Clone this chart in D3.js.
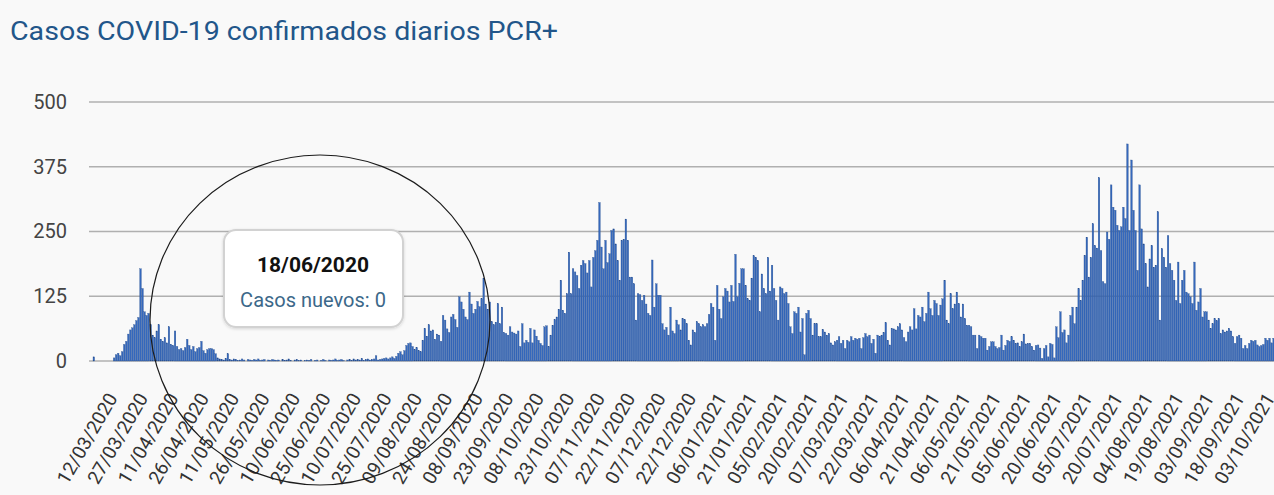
<!DOCTYPE html>
<html>
<head>
<meta charset="utf-8">
<script src="https://cdn.jsdelivr.net/npm/d3@7"></script>
<style>
  html, body { margin: 0; padding: 0; background: #f9f9f9; }
  svg { display: block; font-family: Roboto, "Noto Sans", sans-serif; }
</style>
</head>
<body>
<svg id="chart" width="1274" height="495"></svg>
<script>
// Daily confirmed PCR+ cases, one value per day starting 02/03/2020
const startDate = "2020-03-02";
const dailyCases = [
  8,0,0,0,0,0,0,0,0,0,
  6,12,15,10,18,32,38,52,60,64,
  70,78,84,178,140,95,88,92,70,50,
  45,58,70,42,38,45,35,66,32,30,
  58,28,22,24,20,26,42,30,22,28,
  18,24,26,38,20,15,22,24,24,22,
  14,6,4,3,2,5,14,3,2,4,
  3,1,2,4,2,0,3,2,1,3,
  2,4,1,2,3,0,2,1,3,2,
  1,2,0,3,1,2,4,1,0,2,
  3,1,2,0,1,2,1,3,0,1,
  2,0,1,3,1,0,2,1,2,4,
  1,2,3,1,0,2,3,1,4,2,
  3,2,5,1,3,4,2,3,4,10,
  2,3,4,5,6,4,6,8,5,9,
  15,18,12,20,30,34,35,28,22,26,
  20,18,40,63,48,70,58,60,42,52,
  50,38,88,79,62,55,85,90,80,65,
  124,114,100,85,80,133,110,92,100,115,
  105,120,160,110,100,114,76,70,75,111,
  72,104,55,53,50,66,56,54,52,58,
  28,72,35,40,36,63,35,60,48,40,
  34,30,66,68,28,50,69,80,85,100,
  156,98,92,130,210,130,178,172,165,140,
  185,194,188,170,194,143,200,213,233,306,
  220,178,233,190,207,252,255,226,194,156,
  233,235,274,233,162,162,149,79,130,128,
  117,127,110,92,88,195,104,149,127,127,
  72,60,65,50,104,58,53,79,70,60,
  82,80,72,40,31,60,55,76,72,66,
  70,66,72,90,111,104,40,146,100,82,
  124,140,135,114,146,115,206,124,150,178,
  178,146,120,117,160,203,200,194,95,168,
  140,130,200,135,185,140,117,79,143,140,
  130,133,111,66,53,95,92,104,56,82,
  12,92,98,82,50,72,72,47,47,61,
  56,50,53,35,31,37,40,47,34,40,
  24,40,37,47,40,44,42,44,24,45,
  53,47,50,34,42,15,50,48,50,55,
  74,40,31,63,62,60,66,72,60,45,
  37,56,66,60,101,62,88,85,104,76,
  92,133,101,88,117,111,88,108,120,156,
  79,72,130,101,110,133,111,85,110,82,
  69,69,66,50,50,24,50,47,44,44,
  21,28,37,37,28,24,26,50,21,30,
  40,38,47,40,34,35,28,37,52,33,
  34,34,28,21,30,31,25,5,24,30,
  8,34,32,6,66,45,95,55,60,35,
  50,88,104,72,104,140,117,156,204,239,
  162,200,265,223,218,354,213,153,149,249,
  235,340,297,291,262,252,259,297,275,419,
  252,388,291,252,175,340,255,226,188,143,
  197,223,181,185,288,79,217,200,181,242,
  188,175,156,117,191,111,156,175,133,130,
  124,111,191,98,114,140,85,95,95,79,
  63,72,82,78,82,53,60,56,58,63,
  58,47,34,47,50,44,24,30,24,34,
  40,38,40,31,28,30,32,44,40,44,
  35,44,31
];

// Dates shown on the horizontal axis
const xTickLabels = [
  "12/03/2020","27/03/2020","11/04/2020","26/04/2020","11/05/2020","26/05/2020",
  "10/06/2020","25/06/2020","10/07/2020","25/07/2020","09/08/2020","24/08/2020",
  "08/09/2020","23/09/2020","08/10/2020","23/10/2020","07/11/2020","22/11/2020",
  "07/12/2020","22/12/2020","06/01/2021","21/01/2021","05/02/2021","20/02/2021",
  "07/03/2021","22/03/2021","06/04/2021","21/04/2021","06/05/2021","21/05/2021",
  "05/06/2021","20/06/2021","05/07/2021","20/07/2021","04/08/2021","19/08/2021",
  "03/09/2021","18/09/2021","03/10/2021"
];

const yTicks = [0, 125, 250, 375, 500];

const title = "Casos COVID-19 confirmados diarios PCR+";
const tooltipDate = "18/06/2020";
const tooltipLabel = "Casos nuevos";

// ---- helpers ----
const fmt = d3.timeFormat("%d/%m/%Y");
const parseLabel = d3.timeParse("%d/%m/%Y");
const day0 = d3.timeParse("%Y-%m-%d")(startDate);
const data = dailyCases.map((v, i) => ({ date: fmt(d3.timeDay.offset(day0, i)), value: v }));

const svg = d3.select("#chart");
svg.append("rect").attr("width", 1274).attr("height", 495).attr("fill", "#f9f9f9");

const x = d3.scaleBand()
  .domain(data.map(d => d.date))
  .range([93, 93 + data.length * 2.03])
  .paddingInner(0.2);

const y = d3.scaleLinear().domain([0, 500]).range([361, 102]);

// title
svg.append("text")
  .attr("x", 10).attr("y", 40)
  .attr("font-size", 25)
  .attr("textLength", 548)
  .attr("lengthAdjust", "spacingAndGlyphs")
  .attr("fill", "#22568a")
  .text(title);

// horizontal grid + y labels
const yAxis = d3.axisLeft(y).tickValues(yTicks).tickSize(0).tickPadding(0);
const gy = svg.append("g").attr("transform", "translate(67,0)").call(yAxis);
gy.select(".domain").remove();
gy.selectAll("text").attr("font-size", 20).attr("fill", "#444").attr("font-family", "Roboto, sans-serif");

svg.append("g").selectAll("line")
  .data(yTicks)
  .join("line")
  .attr("x1", 89).attr("x2", 1274)
  .attr("y1", d => y(d)).attr("y2", d => y(d))
  .attr("stroke", "#b0b0b0").attr("stroke-width", 1.4);

// bars
svg.append("g").selectAll("rect")
  .data(data)
  .join("rect")
  .attr("x", d => x(d.date))
  .attr("width", x.bandwidth())
  .attr("y", d => y(d.value))
  .attr("height", d => y(0) - y(d.value))
  .attr("fill", "#3568bc")
  .attr("stroke", "#284f8e")
  .attr("stroke-width", 0.3);

// slanted date labels
svg.append("g").selectAll("text")
  .data(xTickLabels)
  .join("text")
  .attr("transform", d => {
    const k = fmt(parseLabel(d));
    const cx = x(k) + x.bandwidth() / 2 + 4;
    return `translate(${cx},398) rotate(-60)`;
  })
  .attr("text-anchor", "end")
  .attr("font-size", 19)
  .attr("fill", "#333")
  .text(d => d);

// hover tooltip for 18/06/2020
const tipValue = data.find(d => d.date === tooltipDate).value;
const defs = svg.append("defs");
const f = defs.append("filter").attr("id", "tipShadow").attr("x", "-10%").attr("y", "-10%").attr("width", "120%").attr("height", "130%");
f.append("feDropShadow").attr("dx", 0).attr("dy", 1).attr("stdDeviation", 1.5).attr("flood-color", "#000").attr("flood-opacity", 0.15);

const tip = svg.append("g");
tip.append("rect")
  .attr("x", 224).attr("y", 230).attr("width", 179).attr("height", 97)
  .attr("rx", 12)
  .attr("fill", "#ffffff")
  .attr("stroke", "#d2d2d2").attr("stroke-width", 2)
  .attr("filter", "url(#tipShadow)");
tip.append("text")
  .attr("x", 313).attr("y", 272)
  .attr("text-anchor", "middle")
  .attr("font-size", 21).attr("font-weight", "bold").attr("fill", "#111")
  .text(tooltipDate);
tip.append("text")
  .attr("x", 313).attr("y", 307)
  .attr("text-anchor", "middle")
  .attr("font-size", 20).attr("fill", "#3c6889")
  .text(`${tooltipLabel}: ${tipValue}`);

// hand-drawn highlight ring
svg.append("ellipse")
  .attr("cx", 320).attr("cy", 320).attr("rx", 170).attr("ry", 165)
  .attr("fill", "none").attr("stroke", "#1c1c1c").attr("stroke-width", 1.2);
</script>
</body>
</html>
